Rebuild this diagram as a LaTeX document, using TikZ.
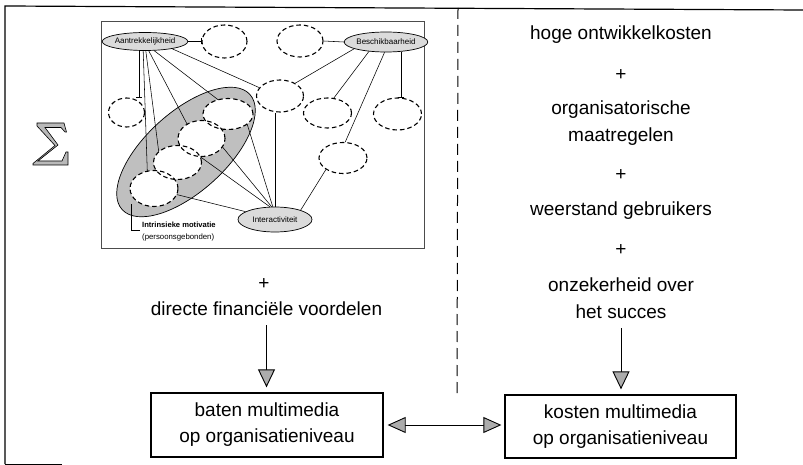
\documentclass[tikz,border=0pt]{standalone}
\usepackage{fontspec}
\setmainfont{Liberation Sans}
\usetikzlibrary{shapes.geometric,arrows.meta}
\begin{document}
\begin{tikzpicture}[x=1pt,y=-1pt,
  big/.style={font=\fontsize{19}{26}\selectfont, inner sep=0pt, anchor=base},
  box/.style={draw, line width=1.3pt, minimum width=232pt, minimum height=64pt,
    align=center, font=\fontsize{19}{26}\selectfont, inner sep=0pt},
  tipd/.style={-{Triangle[length=18pt,width=17pt,fill=gray!65]}, line width=0.9pt},
  tipdd/.style={{Triangle[length=18pt,width=16pt,fill=gray!65]}-{Triangle[length=18pt,width=16pt,fill=gray!65]}, line width=0.9pt},
  oval/.style={ellipse, draw, line width=0.7pt, fill=gray!28, inner sep=0pt,
    font=\fontsize{8}{9}\selectfont},
  dcirc/.style={ellipse, draw, dash pattern=on 4.5pt off 3pt, line width=1.1pt, inner sep=0pt},
  link/.style={line width=0.55pt},
  tick/.style={link, -{Bar[width=6pt,line width=0.6pt]}},
  small/.style={font=\fontsize{7.8}{9}\selectfont, inner sep=0pt, anchor=base west},
]
\useasboundingbox (0,0) rectangle (803,465);

% outer frame (open on the right)
\draw[line width=1.2pt] (5,464) -- (5,6) -- (803,10);
\draw[line width=1pt] (5,464) -- (62,464);

% dashed divider
\coordinate (divtop) at (458,8);
\coordinate (divbot) at (457,393);
\draw[line width=1pt, dash pattern=on 11pt off 6pt] (divtop) -- (divbot);

% summation sign
\draw[fill=gray!55, line width=0.6pt, line join=miter]
  (37,123) -- (64,123) -- (66.5,132) -- (65,132) -- (61,127.5) -- (45,127.5)
  -- (58,145) -- (38,161) -- (62,161) -- (66,152) -- (68,152) -- (68,165)
  -- (33,165) -- (33,163.5) -- (55,145.5) -- (37,126) -- cycle;

% inset figure frame
\draw[line width=0.9pt, black!70] (101.5,21.7) rectangle (424.5,248);

% grouping ellipse
\node[ellipse, draw, line width=0.7pt, fill=gray!50, minimum width=172pt,
      minimum height=80pt, rotate=42] (grp) at (186,152) {};

% named concepts
\node[oval, minimum width=74pt, minimum height=18pt] (aan) at (145,41.5) {Aantrekkelijkheid};
\node[oval, minimum width=76pt, minimum height=20pt] (bes) at (386,42) {Beschikbaarheid};
\node[oval, minimum width=74pt, minimum height=25pt] (int) at (275,219.5) {Interactiviteit};

% open concepts
\node[dcirc, minimum width=45pt, minimum height=33pt] (d1) at (224.5,41.5) {};
\node[dcirc, minimum width=46pt, minimum height=32pt] (d2) at (300,41) {};
\node[dcirc, minimum width=36pt, minimum height=29pt] (dl) at (126.5,112.5) {};
\node[dcirc, minimum width=47pt, minimum height=32pt] (dc) at (280,96) {};
\node[dcirc, minimum width=48pt, minimum height=30pt] (dm) at (327.5,113) {};
\node[dcirc, minimum width=48pt, minimum height=32pt] (dr) at (397.5,114) {};
\node[dcirc, minimum width=48pt, minimum height=31pt] (dlr) at (343,158) {};

% concepts inside the group: fills first, then outlines
\foreach \n/\x/\y/\w/\h in {c1/228/114/50/31, c2/201.5/138.5/47/36,
                           c3/177.5/162.5/48/34, c4/154/188.5/48/36}
  \node[ellipse, fill=white, inner sep=0pt, minimum width=\w pt, minimum height=\h pt] (\n) at (\x,\y) {};
\foreach \n/\w/\h in {c1/50/31, c2/47/36, c3/48/34, c4/48/36}
  \node[dcirc, minimum width=\w pt, minimum height=\h pt] (\n o) at (\n) {};

% links from Aantrekkelijkheid
\draw[tick] (aan.east) -- (d1.west);
\draw[tick] (aan.237) -- (aan.237 |- dl.north);
\draw[link] (aan.259) -- (c4.111);
\draw[link] (aan.275) -- (c3.150);
\draw[link] (aan.292) -- (c2.135);
\draw[link] (aan.315) -- (c1.125);
\draw[link] (aan.345) -- (dc.158);

% links from Beschikbaarheid
\draw[link] (bes.west) -- (d2.east);
\draw[link] (bes.192) -- (dc.40);
\draw[link] (bes.209) -- (dm.67);
\draw[link] (bes.262) -- (dlr.82);
\draw[tick] (bes.328) -- (bes.328 |- dr.north);

% links to Interactiviteit
\draw[link] (int.north) -- (int.north |- dc.south);
\draw[link] (int.20) -- (dlr.214);
\draw[link] (c1.332) -- (int.100);
\draw[link] (c2.338) -- (int.105);
\draw[link] (c3.14) -- (int.112);
\draw[link] (c4.345) -- (int.165);

% group label
\coordinate (brk) at (131,204);
\node[small, font=\bfseries\fontsize{7.6}{9}\selectfont] (intr1) at (142,228) {Intrinsieke motivatie};
\node[small] (intr2) at (142,240) {(persoonsgebonden)};
\draw[line width=0.8pt] (brk) |- ([xshift=-2pt,yshift=-2.5pt]intr1.base west);

% cost factors
\node[big] (k1) at (621,40) {hoge ontwikkelkosten};
\node[big] (kp1) at (621,81) {+};
\node[big] (k2a) at (621,115) {organisatorische};
\node[big] (k2b) at (621,141.5) {maatregelen};
\node[big] (kp2) at (621,181) {+};
\node[big] (k3) at (621,215) {weerstand gebruikers};
\node[big] (kp3) at (621,255) {+};
\node[big] (k4a) at (621,291) {onzekerheid over};
\node[big] (k4b) at (621,318) {het succes};

% benefit factors
\node[big] (bp) at (264,289) {+};
\node[big] (dir) at (266.5,315) {directe financiële voordelen};

% result boxes
\node[box] (baten) at (267,425) {baten multimedia\\op organisatieniveau};
\node[box, minimum width=231pt, minimum height=63pt] (kosten) at (620.5,426.5) {kosten multimedia\\op organisatieniveau};

% arrows
\draw[tipd, shorten <=10pt, shorten >=5pt] (dir.south) -- (dir.south |- baten.north);
\draw[tipd, shorten <=10pt, shorten >=5pt] (k4b.south) -- (k4b.south |- kosten.north);
\draw[tipdd, shorten <=4pt, shorten >=3pt] (baten.east) -- (baten.east -| kosten.west);
\end{tikzpicture}
\end{document}
